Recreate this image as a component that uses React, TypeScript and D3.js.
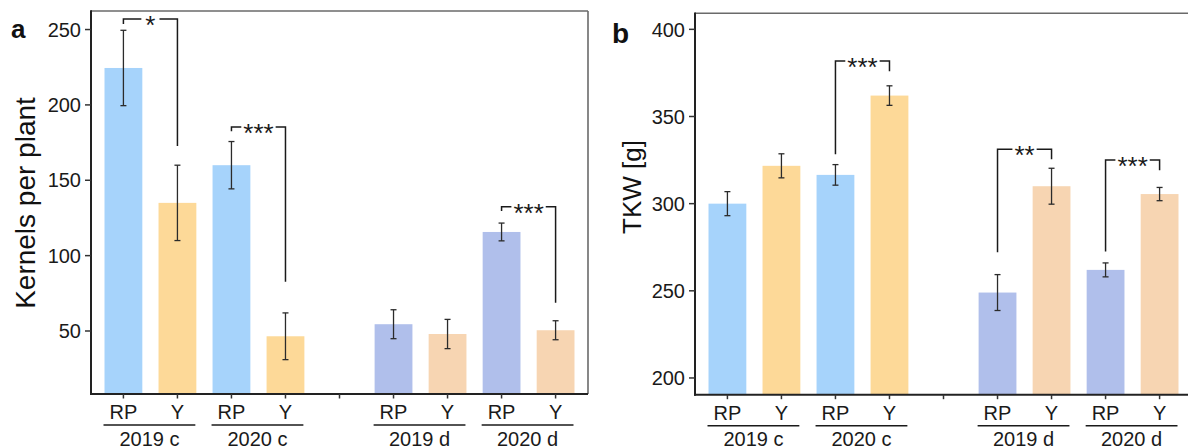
import React from "react";
import * as d3 from "d3";

// Field trial: kernels per plant and thousand-kernel weight for two genotypes
// under control (c) and drought (d) in 2019 and 2020.
const conditions = ["2019 c", "2020 c", "2019 d", "2020 d"];
const genotypes = ["RP", "Y"];

const kernelsMean = [224.5, 135, 160, 46.5, 54.5, 48, 115.7, 50.5];
const kernelsSE = [25, 25, 15.7, 15.5, 9.6, 9.7, 5.9, 6.3];
const kernelsTicks = [50, 100, 150, 200, 250];

const tkwMean = [300, 321.7, 316.5, 362, 249, 310, 262, 305.5];
const tkwSE = [6.9, 6.9, 5.9, 5.6, 10.3, 10.3, 4, 3.8];
const tkwTicks = [200, 250, 300, 350, 400];

// Significance brackets: bar indices, bracket height and the two drop ends (data units)
const kernelsSig = [
  { from: 0, to: 1, label: "*", top: 257, leftEnd: 253.6, rightEnd: 172.7 },
  { from: 2, to: 3, label: "***", top: 185.3, leftEnd: 182.5, rightEnd: 82.7 },
  { from: 6, to: 7, label: "***", top: 132.5, leftEnd: 129.6, rightEnd: 68.8 },
];
const tkwSig = [
  { from: 2, to: 3, label: "***", top: 381.8, leftEnd: 328.3, rightEnd: 375.9 },
  { from: 4, to: 5, label: "**", top: 331.2, leftEnd: 272.1, rightEnd: 325.5 },
  { from: 6, to: 7, label: "***", top: 325.1, leftEnd: 272.5, rightEnd: 319.1 },
];

const barColors: Record<string, string> = {
  "c|RP": "#A6D3FB",
  "c|Y": "#FDD998",
  "d|RP": "#B0BFEB",
  "d|Y": "#F7D5B2",
};

// x slots: the four c bars, an empty spacer slot, then the four d bars
const bars = conditions.flatMap((c) => genotypes.map((g) => ({ cond: c, geno: g, key: `${c}|${g}` })));
const slots = [...bars.slice(0, 4).map((b) => b.key), "gap", ...bars.slice(4).map((b) => b.key)];

const FONT = "'Liberation Sans', Arial, Helvetica, sans-serif";

type Sig = { from: number; to: number; label: string; top: number; leftEnd: number; rightEnd: number };

type PanelProps = {
  left: number;
  right: number;
  top: number;
  bottom: number;
  domain: [number, number];
  ticks: number[];
  mean: number[];
  se: number[];
  sig: Sig[];
  yLabel: string;
  yLabelX: number;
  yLabelY: number;
  yLabelSize: number;
  letter: string;
  letterX: number;
  letterY: number;
  letterSize: number;
};

function Panel(p: PanelProps) {
  const x = d3.scalePoint<string>().domain(slots).range([p.left, p.right]).padding(0.6);
  const step = x.step();
  const bw = step * 0.7;
  const y = d3.scaleLinear().domain(p.domain).range([p.bottom, p.top]);
  const starSize = 26;

  return (
    <g fontFamily={FONT}>
      {/* bars */}
      {bars.map((b, i) => {
        const cx = x(b.key)!;
        const kind = b.cond.endsWith("c") ? "c" : "d";
        return (
          <rect
            key={b.key}
            x={cx - bw / 2}
            y={y(p.mean[i])}
            width={bw}
            height={p.bottom - y(p.mean[i])}
            fill={barColors[`${kind}|${b.geno}`]}
          />
        );
      })}
      {/* error bars */}
      {bars.map((b, i) => {
        const cx = x(b.key)!;
        const y1 = y(p.mean[i] + p.se[i]);
        const y0 = y(p.mean[i] - p.se[i]);
        return (
          <g key={`e${i}`} stroke="#2b2b2b" strokeWidth={1.3}>
            <line x1={cx} x2={cx} y1={y1} y2={y0} />
            <line x1={cx - 3} x2={cx + 3} y1={y1} y2={y1} />
            <line x1={cx - 3} x2={cx + 3} y1={y0} y2={y0} />
          </g>
        );
      })}
      {/* significance brackets */}
      {p.sig.map((s, i) => {
        const xl = x(bars[s.from].key)!;
        const xr = x(bars[s.to].key)!;
        const yt = y(s.top);
        const mid = (xl + xr) / 2;
        const tw = s.label.length * 0.389 * starSize;
        const gap = s.label.length === 1 ? 4 : 2;
        return (
          <g key={`s${i}`}>
            <path
              d={`M${xl},${y(s.leftEnd)}V${yt}H${mid - tw / 2 - gap}M${mid + tw / 2 + gap},${yt}H${xr}V${y(s.rightEnd)}`}
              fill="none"
              stroke="#1a1a1a"
              strokeWidth={1.5}
            />
            <text x={mid} y={yt + 0.58 * starSize} textAnchor="middle" fontSize={starSize} fill="#1a1a1a">
              {s.label}
            </text>
          </g>
        );
      })}
      {/* frame: top/right light, left/bottom axis lines dark */}
      <line x1={p.left} x2={p.right} y1={p.top} y2={p.top} stroke="#6a6a6a" strokeWidth={1.6} />
      <line x1={p.right} x2={p.right} y1={p.top} y2={p.bottom} stroke="#6a6a6a" strokeWidth={1.6} />
      <line x1={p.left} x2={p.left} y1={p.top - 0.8} y2={p.bottom + 1} stroke="#222" strokeWidth={2} />
      <line x1={p.left - 1} x2={p.right} y1={p.bottom} y2={p.bottom} stroke="#222" strokeWidth={2} />
      {/* y axis */}
      {p.ticks.map((t) => (
        <g key={`t${t}`}>
          <line x1={p.left - 6} x2={p.left} y1={y(t)} y2={y(t)} stroke="#333" strokeWidth={1.5} />
          <text x={p.left - 10} y={y(t)} dy="0.36em" textAnchor="end" fontSize={20} fill="#1a1a1a">
            {t}
          </text>
        </g>
      ))}
      {/* x axis ticks, genotype labels, condition brackets */}
      {slots.map((s) => (
        <line key={`xt${s}`} x1={x(s)} x2={x(s)} y1={p.bottom} y2={p.bottom + 4.5} stroke="#333" strokeWidth={1.5} />
      ))}
      {bars.map((b) => (
        <text key={`xl${b.key}`} x={x(b.key)} y={p.bottom + 25.3} textAnchor="middle" fontSize={20} fill="#1a1a1a">
          {b.geno}
        </text>
      ))}
      {conditions.map((c) => {
        const x0 = x(`${c}|RP`)! - bw / 2 - 1;
        const x1 = x(`${c}|Y`)! + bw / 2 - 1;
        return (
          <g key={`c${c}`}>
            <line x1={x0} x2={x1} y1={p.bottom + 31} y2={p.bottom + 31} stroke="#1a1a1a" strokeWidth={1.5} />
            <text x={(x0 + x1) / 2} y={p.bottom + 51.5} textAnchor="middle" fontSize={20} fill="#1a1a1a">
              {c}
            </text>
          </g>
        );
      })}
      {/* axis title and panel letter */}
      <text
        transform={`translate(${p.yLabelX},${p.yLabelY}) rotate(-90)`}
        textAnchor="middle"
        fontSize={p.yLabelSize}
        fill="#111"
      >
        {p.yLabel}
      </text>
      <text x={p.letterX} y={p.letterY} fontSize={p.letterSize} fontWeight="bold" fill="#111">
        {p.letter}
      </text>
    </g>
  );
}

export default function App() {
  return (
    <svg
      width={1188}
      height={448}
      viewBox="0 0 1188 448"
      style={{ position: "absolute", left: 0, top: 0, background: "#fff" }}
    >
      <rect width={1188} height={448} fill="#fff" />
      <Panel
        left={91}
        right={588}
        top={11}
        bottom={394}
        domain={[8.2, 262.3]}
        ticks={kernelsTicks}
        mean={kernelsMean}
        se={kernelsSE}
        sig={kernelsSig}
        yLabel="Kernels per plant"
        yLabelX={35}
        yLabelY={203}
        yLabelSize={28}
        letter="a"
        letterX={11}
        letterY={37.5}
        letterSize={26}
      />
      <Panel
        left={695}
        right={1192}
        top={13.3}
        bottom={394.7}
        domain={[190.4, 409.2]}
        ticks={tkwTicks}
        mean={tkwMean}
        se={tkwSE}
        sig={tkwSig}
        yLabel="TKW [g]"
        yLabelX={641}
        yLabelY={187}
        yLabelSize={26}
        letter="b"
        letterX={612}
        letterY={43}
        letterSize={28}
      />
    </svg>
  );
}
